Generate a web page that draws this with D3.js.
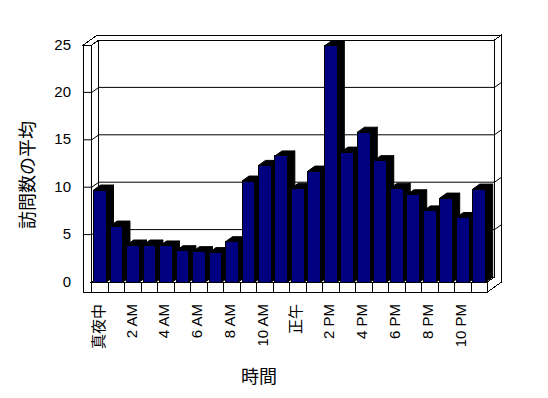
<!DOCTYPE html>
<html>
<head>
<meta charset="utf-8">
<script src="https://cdn.jsdelivr.net/npm/d3@7"></script>
<style>
html,body{margin:0;padding:0;background:#fff;}
svg{display:block;}
text{font-family:"Liberation Sans","Noto Sans CJK JP",sans-serif;fill:#000;}
</style>
</head>
<body>
<svg id="chart" width="548" height="398"></svg>
<script>
// ---- data ----
const hours = ["真夜中","1 AM","2 AM","3 AM","4 AM","5 AM","6 AM","7 AM","8 AM","9 AM","10 AM","11 AM",
               "正午","1 PM","2 PM","3 PM","4 PM","5 PM","6 PM","7 PM","8 PM","9 PM","10 PM","11 PM"];
const visits = [9.7,5.9,3.9,3.9,3.8,3.3,3.2,3.1,4.25,10.65,12.3,13.3,
                9.9,11.7,24.9,13.7,15.8,12.8,9.9,9.2,7.5,8.85,6.8,9.8];
const yTicks = [0,5,10,15,20,25];
const yTitle = "訪問数の平均";
const xTitle = "時間";

// ---- layout ----
const svg = d3.select("#chart");
const x = d3.scaleBand().domain(hours).range([91.8, 487.5]).paddingInner(0.22).paddingOuter(0.11);
const y = d3.scaleLinear().domain([0, 25]).range([282, 45]);
const dx = 7, dy = -5, SW = 8.5, FT = 10;
const X0 = x.range()[0], X1 = x.range()[1];
const y0 = y(0), yT = y(25);
const line = d3.line();
const g = svg.append("g").attr("fill", "none").attr("stroke", "#000").attr("stroke-width", 1)
  .attr("shape-rendering", "crispEdges");

// back wall front face
g.append("rect").attr("x", X0 + dx).attr("y", yT + dy).attr("width", X1 - X0).attr("height", y0 - yT).attr("fill", "#fff");
// top face of walls
g.append("path").attr("fill", "#fff").attr("d", line([
  [X0 - SW, yT], [X0, yT], [X0 + dx, yT + dy], [X1 + dx, yT + dy], [X1 + 2 * dx, yT + 2 * dy], [X0 - SW + 2 * dx, yT + 2 * dy]
]) + "Z");
// right face of back wall + floor
g.append("path").attr("fill", "#fff").attr("d", line([
  [X1 + dx, yT + dy], [X1 + 2 * dx, yT + 2 * dy], [X1 + 2 * dx, y0 + FT + 2 * dy], [X1, y0 + FT], [X1, y0], [X1 + dx, y0 + dy]
]) + "Z");
// side wall front face
g.append("rect").attr("x", X0 - SW).attr("y", yT).attr("width", SW).attr("height", y0 + FT - yT).attr("fill", "#fff");
// side wall inner corner
g.append("path").attr("d", line([[X0 + dx, yT + dy], [X0 + dx, y0 + dy]]));
// floor top
g.append("path").attr("fill", "#fff").attr("d", line([[X0, y0], [X1, y0], [X1 + dx, y0 + dy], [X0 + dx, y0 + dy]]) + "Z");
// floor front face
g.append("rect").attr("x", X0).attr("y", y0).attr("width", X1 - X0).attr("height", FT).attr("fill", "#fff");
g.append("path").attr("d", line([[X0 - SW, y0 + FT], [X1, y0 + FT]]));
const step = x.step();
hours.slice(1).forEach((h, i) => {
  const bx = X0 + (i + 1) * step;
  g.append("path").attr("d", line([[bx, y0], [bx, y0 + FT]]));
});

// gridlines
yTicks.filter(v => v > 0 && v < 25).forEach(v => {
  const yy = y(v);
  g.append("path").attr("shape-rendering", "auto").attr("d", line([
    [X0 - SW, yy], [X0, yy], [X0 + dx, yy + dy], [X1 + dx, yy + dy], [X1 + 2 * dx, yy + 2 * dy]
  ]));
});

// bars
const bars = svg.append("g").attr("stroke", "#000").attr("stroke-width", 1);
hours.forEach((h, i) => {
  const v = visits[i];
  const bx = x(h), bw = x.bandwidth(), by = y(v);
  // side face
  bars.append("path").attr("fill", "#000").attr("d", line([
    [bx + bw, by], [bx + bw + dx, by + dy], [bx + bw + dx, y0 + dy], [bx + bw, y0]
  ]) + "Z");
  // top face
  bars.append("path").attr("fill", "#000").attr("d", line([
    [bx, by], [bx + bw, by], [bx + bw + dx, by + dy], [bx + dx, by + dy]
  ]) + "Z");
  // front face
  bars.append("rect").attr("x", bx).attr("y", by).attr("width", bw).attr("height", y0 - by)
    .attr("fill", "#000080").attr("shape-rendering", "crispEdges");
});

// y tick labels
svg.append("g").selectAll("text").data(yTicks).join("text")
  .attr("x", 71).attr("y", d => y(d) - 1)
  .attr("text-anchor", "end").attr("dominant-baseline", "central")
  .attr("font-size", 15).text(d => d);

// x tick labels (every second hour)
svg.append("g").selectAll("text").data(hours.filter((h, i) => i % 2 === 0)).join("text")
  .attr("transform", d => `translate(${x(d) + x.bandwidth() / 2 - 2},304) rotate(-90)`)
  .attr("text-anchor", "end").attr("dominant-baseline", "central")
  .attr("font-size", 15).text(d => d);

// axis titles
svg.append("text").attr("transform", "translate(28,175) rotate(-90)")
  .attr("text-anchor", "middle").attr("dominant-baseline", "central")
  .attr("font-size", 18).text(yTitle);
svg.append("text").attr("x", 259).attr("y", 376.5)
  .attr("text-anchor", "middle").attr("dominant-baseline", "central")
  .attr("font-size", 18).text(xTitle);
</script>
</body>
</html>
